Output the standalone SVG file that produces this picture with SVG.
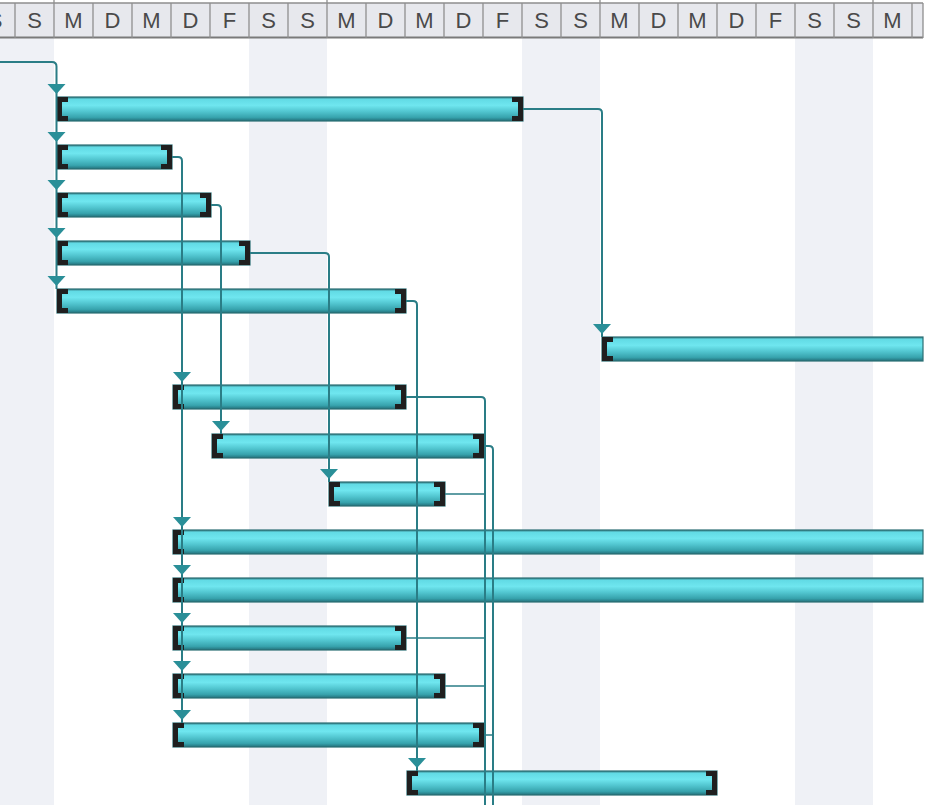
<svg xmlns="http://www.w3.org/2000/svg" xmlns:xlink="http://www.w3.org/1999/xlink" width="943" height="805" viewBox="0 0 943 805">
<style>
.hd{font-family:"Liberation Sans","DejaVu Sans",sans-serif;font-size:22px;fill:#4a4a4a;text-anchor:middle}
.we{fill:#eff1f6}
.gl{stroke:#8e8e8e;stroke-width:1.3}
.bar{fill:url(#bg);stroke:#2b6e74;stroke-width:1.2}
.cap{fill:#1f1f1f}
.con{fill:none;stroke:#2a7d86;stroke-width:2}
.con1{fill:none;stroke:#2a7d86;stroke-width:1.5}
.arr{fill:#2a8f98}
</style>
<defs>
<linearGradient id="bg" x1="0" y1="0" x2="0" y2="1">
<stop offset="0" stop-color="#357f87"/>
<stop offset="0.1" stop-color="#62dbe5"/>
<stop offset="0.35" stop-color="#6fe6ef"/>
<stop offset="0.6" stop-color="#52c6d0"/>
<stop offset="0.85" stop-color="#37a3ad"/>
<stop offset="1" stop-color="#23707a"/>
</linearGradient>
<path id="lc" class="cap" d="M0,0H11V5H5V19H11V24H0Z"/>
<path id="rc" class="cap" d="M0,0H-11V5H-5V19H-11V24H0Z"/>
<path id="ar" class="arr" d="M-9,-13H9L0,-3Z"/>
</defs>
<rect width="943" height="805" fill="#ffffff"/>
<g id="weekends">
<rect class="we" x="0" y="38" width="54" height="767"/>
<rect class="we" x="249" y="38" width="78" height="767"/>
<rect class="we" x="522" y="38" width="78" height="767"/>
<rect class="we" x="795" y="38" width="78" height="767"/>
</g>
<g id="header">
<rect x="0" y="3" width="923" height="35" fill="#e7e8ed"/>
<line class="gl" x1="0" y1="3" x2="923" y2="3"/>
<line x1="0" y1="37.5" x2="923" y2="37.5" stroke="#7a7a7a" stroke-width="2"/>
<line class="gl" x1="54" y1="0" x2="54" y2="3"/>
<line class="gl" x1="327" y1="0" x2="327" y2="3"/>
<line class="gl" x1="600" y1="0" x2="600" y2="3"/>
<line class="gl" x1="873" y1="0" x2="873" y2="3"/>
<g class="gl">
<line x1="15" y1="3" x2="15" y2="38"/>
<line x1="54" y1="3" x2="54" y2="38"/>
<line x1="93" y1="3" x2="93" y2="38"/>
<line x1="132" y1="3" x2="132" y2="38"/>
<line x1="171" y1="3" x2="171" y2="38"/>
<line x1="210" y1="3" x2="210" y2="38"/>
<line x1="249" y1="3" x2="249" y2="38"/>
<line x1="288" y1="3" x2="288" y2="38"/>
<line x1="327" y1="3" x2="327" y2="38"/>
<line x1="366" y1="3" x2="366" y2="38"/>
<line x1="405" y1="3" x2="405" y2="38"/>
<line x1="444" y1="3" x2="444" y2="38"/>
<line x1="483" y1="3" x2="483" y2="38"/>
<line x1="522" y1="3" x2="522" y2="38"/>
<line x1="561" y1="3" x2="561" y2="38"/>
<line x1="600" y1="3" x2="600" y2="38"/>
<line x1="639" y1="3" x2="639" y2="38"/>
<line x1="678" y1="3" x2="678" y2="38"/>
<line x1="717" y1="3" x2="717" y2="38"/>
<line x1="756" y1="3" x2="756" y2="38"/>
<line x1="795" y1="3" x2="795" y2="38"/>
<line x1="834" y1="3" x2="834" y2="38"/>
<line x1="873" y1="3" x2="873" y2="38"/>
<line x1="912" y1="3" x2="912" y2="38"/>
<line x1="923" y1="3" x2="923" y2="38"/>
</g>
<text class="hd" x="-5" y="28">S</text>
<text class="hd" x="34.5" y="28">S</text>
<text class="hd" x="73.5" y="28">M</text>
<text class="hd" x="112.5" y="28">D</text>
<text class="hd" x="151.5" y="28">M</text>
<text class="hd" x="190.5" y="28">D</text>
<text class="hd" x="229.5" y="28">F</text>
<text class="hd" x="268.5" y="28">S</text>
<text class="hd" x="307.5" y="28">S</text>
<text class="hd" x="346.5" y="28">M</text>
<text class="hd" x="385.5" y="28">D</text>
<text class="hd" x="424.5" y="28">M</text>
<text class="hd" x="463.5" y="28">D</text>
<text class="hd" x="502.5" y="28">F</text>
<text class="hd" x="541.5" y="28">S</text>
<text class="hd" x="580.5" y="28">S</text>
<text class="hd" x="619.5" y="28">M</text>
<text class="hd" x="658.5" y="28">D</text>
<text class="hd" x="697.5" y="28">M</text>
<text class="hd" x="736.5" y="28">D</text>
<text class="hd" x="775.5" y="28">F</text>
<text class="hd" x="814.5" y="28">S</text>
<text class="hd" x="853.5" y="28">S</text>
<text class="hd" x="892.5" y="28">M</text>
</g>
<g id="task1"><rect class="bar" x="57" y="97" width="466" height="24"/><use xlink:href="#lc" x="57" y="97"/><use xlink:href="#rc" x="523" y="97"/></g>
<g id="task2"><rect class="bar" x="57" y="145" width="115" height="24"/><use xlink:href="#lc" x="57" y="145"/><use xlink:href="#rc" x="172" y="145"/></g>
<g id="task3"><rect class="bar" x="57" y="193" width="154" height="24"/><use xlink:href="#lc" x="57" y="193"/><use xlink:href="#rc" x="211" y="193"/></g>
<g id="task4"><rect class="bar" x="57" y="241" width="193" height="24"/><use xlink:href="#lc" x="57" y="241"/><use xlink:href="#rc" x="250" y="241"/></g>
<g id="task5"><rect class="bar" x="57" y="289" width="349" height="24"/><use xlink:href="#lc" x="57" y="289"/><use xlink:href="#rc" x="406" y="289"/></g>
<g id="task6"><rect class="bar" x="602" y="337" width="321" height="24"/><use xlink:href="#lc" x="602" y="337"/></g>
<g id="task7"><rect class="bar" x="173" y="385" width="233" height="24"/><use xlink:href="#lc" x="173" y="385"/><use xlink:href="#rc" x="406" y="385"/></g>
<g id="task8"><rect class="bar" x="212" y="434" width="272" height="24"/><use xlink:href="#lc" x="212" y="434"/><use xlink:href="#rc" x="484" y="434"/></g>
<g id="task9"><rect class="bar" x="329" y="482" width="116" height="24"/><use xlink:href="#lc" x="329" y="482"/><use xlink:href="#rc" x="445" y="482"/></g>
<g id="task10"><rect class="bar" x="173" y="530" width="750" height="24"/><use xlink:href="#lc" x="173" y="530"/></g>
<g id="task11"><rect class="bar" x="173" y="578" width="750" height="24"/><use xlink:href="#lc" x="173" y="578"/></g>
<g id="task12"><rect class="bar" x="173" y="626" width="233" height="24"/><use xlink:href="#lc" x="173" y="626"/><use xlink:href="#rc" x="406" y="626"/></g>
<g id="task13"><rect class="bar" x="173" y="674" width="272" height="24"/><use xlink:href="#lc" x="173" y="674"/><use xlink:href="#rc" x="445" y="674"/></g>
<g id="task14"><rect class="bar" x="173" y="723" width="311" height="24"/><use xlink:href="#lc" x="173" y="723"/><use xlink:href="#rc" x="484" y="723"/></g>
<g id="task15"><rect class="bar" x="407" y="771" width="310" height="24"/><use xlink:href="#lc" x="407" y="771"/><use xlink:href="#rc" x="717" y="771"/></g>
<g id="connectors">
<path class="con" d="M0,62H52Q56.5,62 56.5,66.5V289"/>
<path class="con" d="M523,109H598Q602,109 602,113V337"/>
<path class="con" d="M172,157H178Q182,157 182,161V723"/>
<path class="con" d="M211,205H217Q221,205 221,209V434"/>
<path class="con" d="M250,253H325Q329,253 329,257V482"/>
<path class="con" d="M406,301H413Q417,301 417,305V771"/>
<path class="con" d="M406,397H481Q485,397 485,401V805"/>
<path class="con" d="M484,446H489Q493,446 493,450V805"/>
<path class="con1" d="M445,494H485"/>
<path class="con1" d="M406,638H485"/>
<path class="con1" d="M445,686H485"/>
<path class="con1" d="M484,735H493"/>
<use xlink:href="#ar" x="56.5" y="97"/>
<use xlink:href="#ar" x="56.5" y="145"/>
<use xlink:href="#ar" x="56.5" y="193"/>
<use xlink:href="#ar" x="56.5" y="241"/>
<use xlink:href="#ar" x="56.5" y="289"/>
<use xlink:href="#ar" x="602" y="337"/>
<use xlink:href="#ar" x="182" y="385"/>
<use xlink:href="#ar" x="221" y="434"/>
<use xlink:href="#ar" x="329" y="482"/>
<use xlink:href="#ar" x="182" y="530"/>
<use xlink:href="#ar" x="182" y="578"/>
<use xlink:href="#ar" x="182" y="626"/>
<use xlink:href="#ar" x="182" y="674"/>
<use xlink:href="#ar" x="182" y="723"/>
<use xlink:href="#ar" x="417" y="771"/>
</g>
</svg>
